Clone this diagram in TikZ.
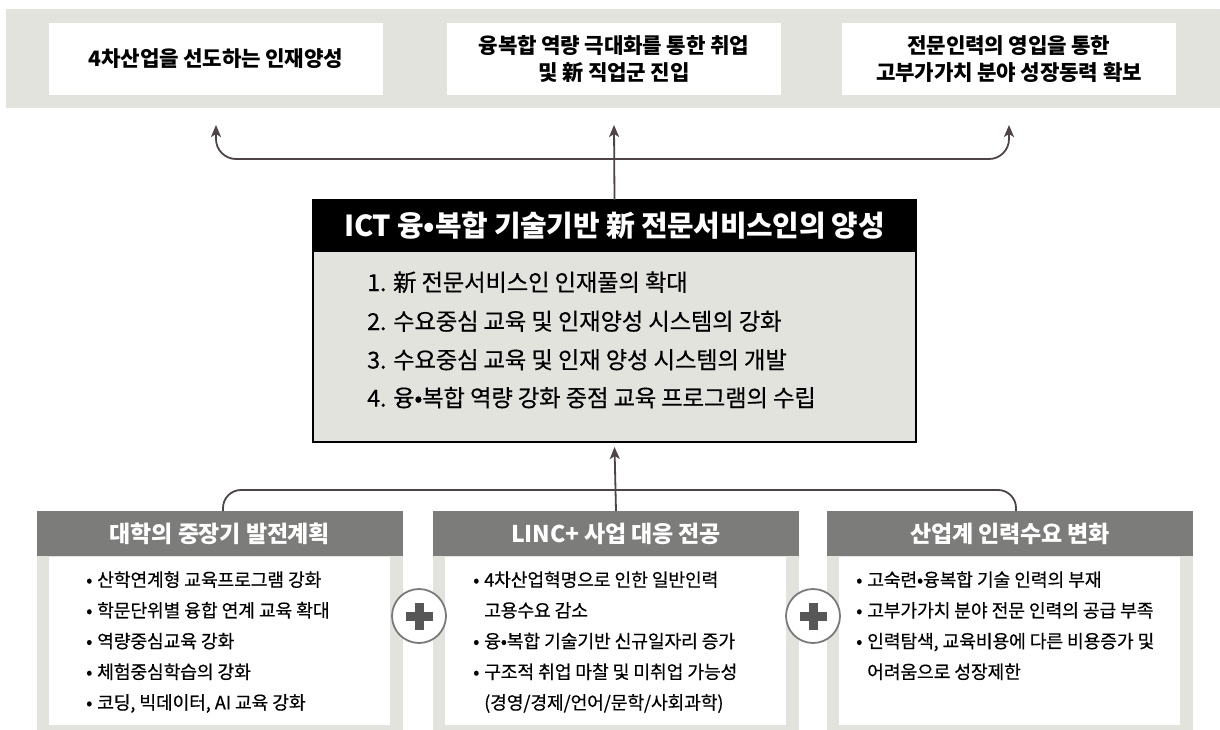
\documentclass[tikz,border=0pt]{standalone}
\usepackage{fontspec}
\setmainfont{Noto Sans CJK KR}[LetterSpace=-1]
\newfontfamily\medfont{Noto Sans CJK KR}[LetterSpace=-1, FakeBold=0.4]
\usetikzlibrary{arrows.meta}
\definecolor{bandgray}{HTML}{E3E3DE}
\definecolor{headgray}{HTML}{7C7D7B}
\definecolor{linec}{HTML}{4E4448}
\definecolor{plusc}{HTML}{575757}
\definecolor{circc}{HTML}{7A7A7A}
\newcommand{\bul}{\makebox[11pt][l]{•}}
\newcommand{\cont}{\hspace*{11pt}}
\begin{document}
\begin{tikzpicture}[x=1pt,y=-1pt,
  box/.style={inner sep=0pt, outer sep=0pt},
  topbox/.style={box, fill=white, minimum width=334pt, minimum height=72pt, align=center, font=\fontsize{21.2}{26.5}\selectfont\bfseries},
  conn/.style={draw=linec, line width=1.8pt},
  arr/.style={conn, -{Stealth[length=12pt,width=10pt,inset=3pt]}},
  frame/.style={box, fill=bandgray, minimum width=366pt, minimum height=219pt, anchor=north west},
  inner/.style={box, fill=white, minimum width=341pt, minimum height=168pt, anchor=north west},
  head/.style={box, fill=headgray, text=white, minimum width=366pt, minimum height=45pt, anchor=north west, font=\fontsize{23}{26}\selectfont\bfseries},
  item/.style={anchor=base west, inner sep=0pt, font=\fontsize{23.4}{26}\medfont},
  bodytxt/.style={anchor=base west, inner sep=0pt, font=\fontsize{18.25}{20}\medfont},
  pluscirc/.style={circle, fill=white, draw=circc, line width=1.8pt, minimum size=54pt, inner sep=0pt},
]
\useasboundingbox (0,0) rectangle (1220,730);
% top band
\node[box, fill=bandgray, minimum width=1214pt, minimum height=99pt, anchor=north west] (band) at (6,9) {};
\node[topbox] (t1) at (216,59) {4차산업을 선도하는 인재양성};
\node[topbox] (t2) at (614,59) {융복합 역량 극대화를 통한 취업\\및 新 직업군 진입};
\node[topbox] (t3) at (1009,59) {전문인력의 영입을 통한\\고부가가치 분야 성장동력 확보};
% core box
\node[box, fill=bandgray, draw=black, line width=2pt, minimum width=603pt, minimum height=242pt, anchor=north west] (core) at (313,200) {};
\node[box, fill=black, minimum width=603pt, minimum height=52pt, anchor=north west] (cbar) at (313,200) {};
\node[box, text=white, font=\fontsize{28.9}{30}\selectfont\bfseries] (ctitle) at (cbar.center) {ICT 융•복합 기술기반 新 전문서비스인의 양성};
\node[item] (c1) at (367,291) {1. 新 전문서비스인 인재풀의 확대};
\node[item] (c2) at (367,330) {2. 수요중심 교육 및 인재양성 시스템의 강화};
\node[item] (c3) at (367,368.5) {3. 수요중심 교육 및 인재 양성 시스템의 개발};
\node[item] (c4) at (367,406.5) {4. 융•복합 역량 강화 중점 교육 프로그램의 수립};
% bottom boxes
\node[frame] (f1) at (37,511) {};
\node[frame] (f2) at (433,511) {};
\node[frame] (f3) at (827,511) {};
\node[inner] (w1) at (49,557) {};
\node[inner] (w2) at (445,557) {};
\node[inner] (w3) at (839,557) {};
\node[head] (h1) at (37,511) {대학의 중장기 발전계획};
\node[head] (h2) at (433,511) {LINC+ 사업 대응 전공};
\node[head] (h3) at (827,511) {산업계 인력수요 변화};
% box 1 text
\node[bodytxt] (a1) at (86,586.5) {\bul 산학연계형 교육프로그램 강화};
\node[bodytxt] (a2) at (86,617.2) {\bul 학문단위별 융합 연계 교육 확대};
\node[bodytxt] (a3) at (86,647.9) {\bul 역량중심교육 강화};
\node[bodytxt] (a4) at (86,678.6) {\bul 체험중심학습의 강화};
\node[bodytxt] (a5) at (86,709.3) {\bul 코딩, 빅데이터, AI 교육 강화};
% box 2 text
\node[bodytxt] (b1) at (473,586.5) {\bul 4차산업혁명으로 인한 일반인력};
\node[bodytxt] (b2) at (473,617.2) {\cont 고용수요 감소};
\node[bodytxt] (b3) at (473,647.9) {\bul 융•복합 기술기반 신규일자리 증가};
\node[bodytxt] (b4) at (473,678.6) {\bul 구조적 취업 마찰 및 미취업 가능성};
\node[bodytxt] (b5) at (473,709.3) {\cont (경영/경제/언어/문학/사회과학)};
% box 3 text
\node[bodytxt] (d1) at (856,586.5) {\bul 고숙련•융복합 기술 인력의 부재};
\node[bodytxt] (d2) at (856,617.2) {\bul 고부가가치 분야 전문 인력의 공급 부족};
\node[bodytxt] (d3) at (856,647.9) {\bul 인력탐색, 교육비용에 다른 비용증가 및};
\node[bodytxt] (d4) at (856,678.6) {\cont 어려움으로 성장제한};
% plus signs
\node[pluscirc] (p1) at (419,616) {};
\node[pluscirc] (p2) at (813,616) {};
\foreach \p in {p1,p2}{
  \fill[plusc] (\p.center) ++(-13.5,-4.5) rectangle ++(27,9);
  \fill[plusc] (\p.center) ++(-4.5,-13.5) rectangle ++(9,27);
}
% connectors top
\coordinate (ty) at (0,159);
\draw[arr] (core.north) -- ([yshift=-30pt]t2.south);
\draw[arr, rounded corners=20pt] (core.north |- ty) -- (t1.south |- ty) -- ([yshift=-30pt]t1.south);
\draw[arr, rounded corners=20pt] (core.north |- ty) -- (t3.south |- ty) -- ([yshift=-30pt]t3.south);
% connectors bottom
\coordinate (by) at (0,490);
\draw[conn, rounded corners=18pt] ([xshift=3pt]h1.north) -- ([xshift=3pt]h1.north |- by) -- ([xshift=6pt]h3.north |- by) -- ([xshift=6pt]h3.north);
\draw[arr] (h2.north) -- ([yshift=-5pt]core.south);
\end{tikzpicture}
\end{document}
